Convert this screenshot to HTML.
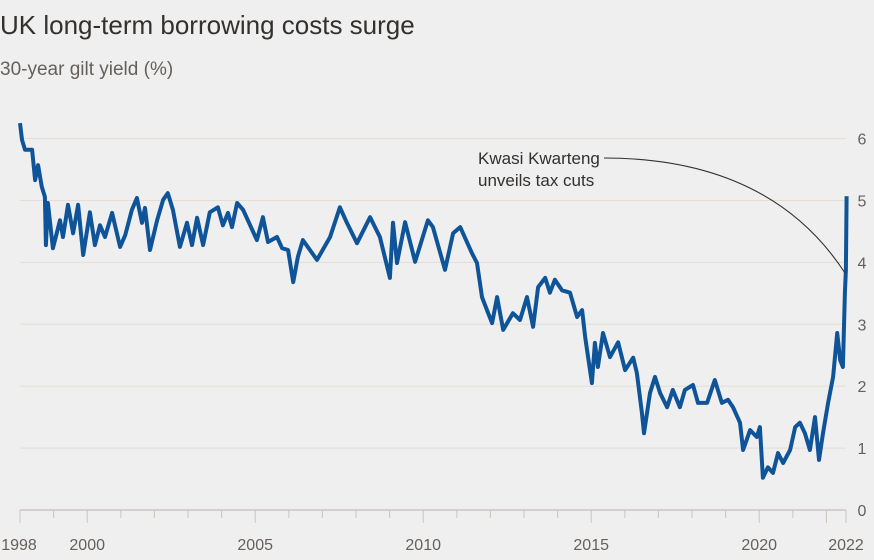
<!DOCTYPE html>
<html><head><meta charset="utf-8"><style>
body{margin:0;background:#efefef;}
svg{display:block;font-family:"Liberation Sans",sans-serif;}
</style></head><body>
<svg id="chart" width="874" height="560">
<rect width="874" height="560" fill="#efefef"/>
<text x="0" y="34" font-size="26" fill="#33302e">UK long-term borrowing costs surge</text>
<text x="0" y="75" font-size="19" fill="#66605c">30-year gilt yield (%)</text>
<g id="grid"></g><g id="xaxis"></g><g id="series"></g>
<path d="M604,158 Q770,158 845,273" fill="none" stroke="#33302e" stroke-width="1.1"/>
<text x="478" y="164" font-size="17" fill="#33302e">Kwasi Kwarteng</text>
<text x="478" y="186" font-size="17" fill="#33302e">unveils tax cuts</text>
</svg>
<script>
const years=[1998.0,1998.06,1998.15,1998.36,1998.45,1998.54,1998.65,1998.74,1998.77,1998.83,1998.98,1999.19,1999.28,1999.43,1999.58,1999.73,1999.88,2000.08,2000.23,2000.38,2000.53,2000.74,2000.98,2001.13,2001.33,2001.48,2001.63,2001.72,2001.87,2002.08,2002.26,2002.40,2002.55,2002.76,2002.97,2003.12,2003.27,2003.45,2003.65,2003.89,2004.04,2004.19,2004.31,2004.46,2004.64,2005.05,2005.23,2005.38,2005.65,2005.80,2005.98,2006.13,2006.27,2006.42,2006.84,2007.23,2007.52,2007.73,2008.03,2008.42,2008.71,2009.01,2009.10,2009.22,2009.46,2009.76,2010.14,2010.29,2010.65,2010.89,2011.10,2011.45,2011.60,2011.75,2011.90,2012.05,2012.20,2012.38,2012.67,2012.88,2013.09,2013.27,2013.42,2013.63,2013.77,2013.92,2014.13,2014.37,2014.58,2014.73,2014.82,2015.02,2015.11,2015.20,2015.35,2015.56,2015.80,2016.01,2016.25,2016.36,2016.51,2016.57,2016.75,2016.90,2017.05,2017.26,2017.43,2017.64,2017.79,2018.03,2018.18,2018.45,2018.68,2018.89,2019.07,2019.22,2019.43,2019.52,2019.73,2019.93,2020.02,2020.11,2020.26,2020.41,2020.56,2020.71,2020.92,2021.07,2021.21,2021.36,2021.51,2021.66,2021.78,2021.90,2022.05,2022.20,2022.32,2022.41,2022.49,2022.55,2022.58,2022.60];
const yields=[6.25,5.98,5.82,5.82,5.33,5.57,5.22,5.06,4.28,4.96,4.23,4.68,4.41,4.93,4.47,4.93,4.12,4.81,4.28,4.60,4.41,4.80,4.25,4.44,4.85,5.04,4.64,4.88,4.20,4.68,5.01,5.12,4.85,4.25,4.64,4.28,4.72,4.28,4.81,4.89,4.60,4.80,4.57,4.96,4.85,4.36,4.73,4.33,4.41,4.23,4.20,3.68,4.09,4.36,4.04,4.41,4.89,4.64,4.31,4.73,4.41,3.75,4.64,3.99,4.65,4.01,4.68,4.57,3.88,4.47,4.57,4.15,3.99,3.44,3.23,3.02,3.44,2.91,3.18,3.07,3.44,2.96,3.60,3.75,3.51,3.72,3.55,3.51,3.12,3.23,2.79,2.05,2.70,2.31,2.86,2.47,2.71,2.26,2.46,2.21,1.57,1.24,1.89,2.15,1.89,1.66,1.94,1.66,1.94,2.02,1.73,1.73,2.10,1.73,1.78,1.66,1.41,0.97,1.29,1.18,1.34,0.52,0.69,0.60,0.92,0.76,0.97,1.34,1.41,1.24,0.97,1.50,0.81,1.24,1.73,2.15,2.86,2.42,2.31,3.51,3.88,5.07];
const yTicks=[0,1,2,3,4,5,6];
const xLabels=[1998,2000,2005,2010,2015,2020,2022];
const NS="http://www.w3.org/2000/svg";
const X0=20,XW=33.6,XEND=846,Y0=510,YU=61.9;
const sx=y=>X0+(y-1998)*XW, sy=v=>Y0-v*YU;
function mk(t,a,p){const e=document.createElementNS(NS,t);for(const k in a)e.setAttribute(k,a[k]);p.appendChild(e);return e;}
const grid=document.getElementById('grid');
yTicks.forEach(v=>{
  if(v>0){const l=mk('line',{x1:X0,x2:XEND,y1:sy(v),y2:sy(v),stroke:'#e3ddd6','stroke-width':1},grid);
  
  }
  const t=mk('text',{x:862,y:sy(v)+6,'font-size':16,fill:'#66605c','text-anchor':'middle'},grid);t.textContent=v;
  
  
});
const xa=document.getElementById('xaxis');
const al=mk('line',{x1:X0,x2:XEND,y1:Y0,y2:Y0,stroke:'#cdc5bd','stroke-width':1.5},xa);


for(let y=1998;y<=2022;y++){const tk=mk('line',{x1:sx(y),x2:sx(y),y1:Y0,y2:Y0+(xLabels.includes(y)?13:8),stroke:'#cdc5bd','stroke-width':1},xa);
  
  }
const et=mk('line',{x1:XEND,x2:XEND,y1:Y0,y2:Y0+13,stroke:'#cdc5bd','stroke-width':1},xa);


xLabels.forEach(y=>{
  const x=y===2022?XEND:(y===1998?19:sx(y));
  const t=mk('text',{x:x,y:550,'font-size':16,fill:'#66605c','text-anchor':'middle'},xa);t.textContent=y;
  
  
});
const d=years.map((y,i)=>(i?'L':'M')+sx(y).toFixed(1)+','+sy(yields[i]).toFixed(1)).join(' ');
const p=mk('path',{d:d,fill:'none',stroke:'#0f5499','stroke-width':4,'stroke-linejoin':'round'},document.getElementById('series'));


</script>
</body></html>
